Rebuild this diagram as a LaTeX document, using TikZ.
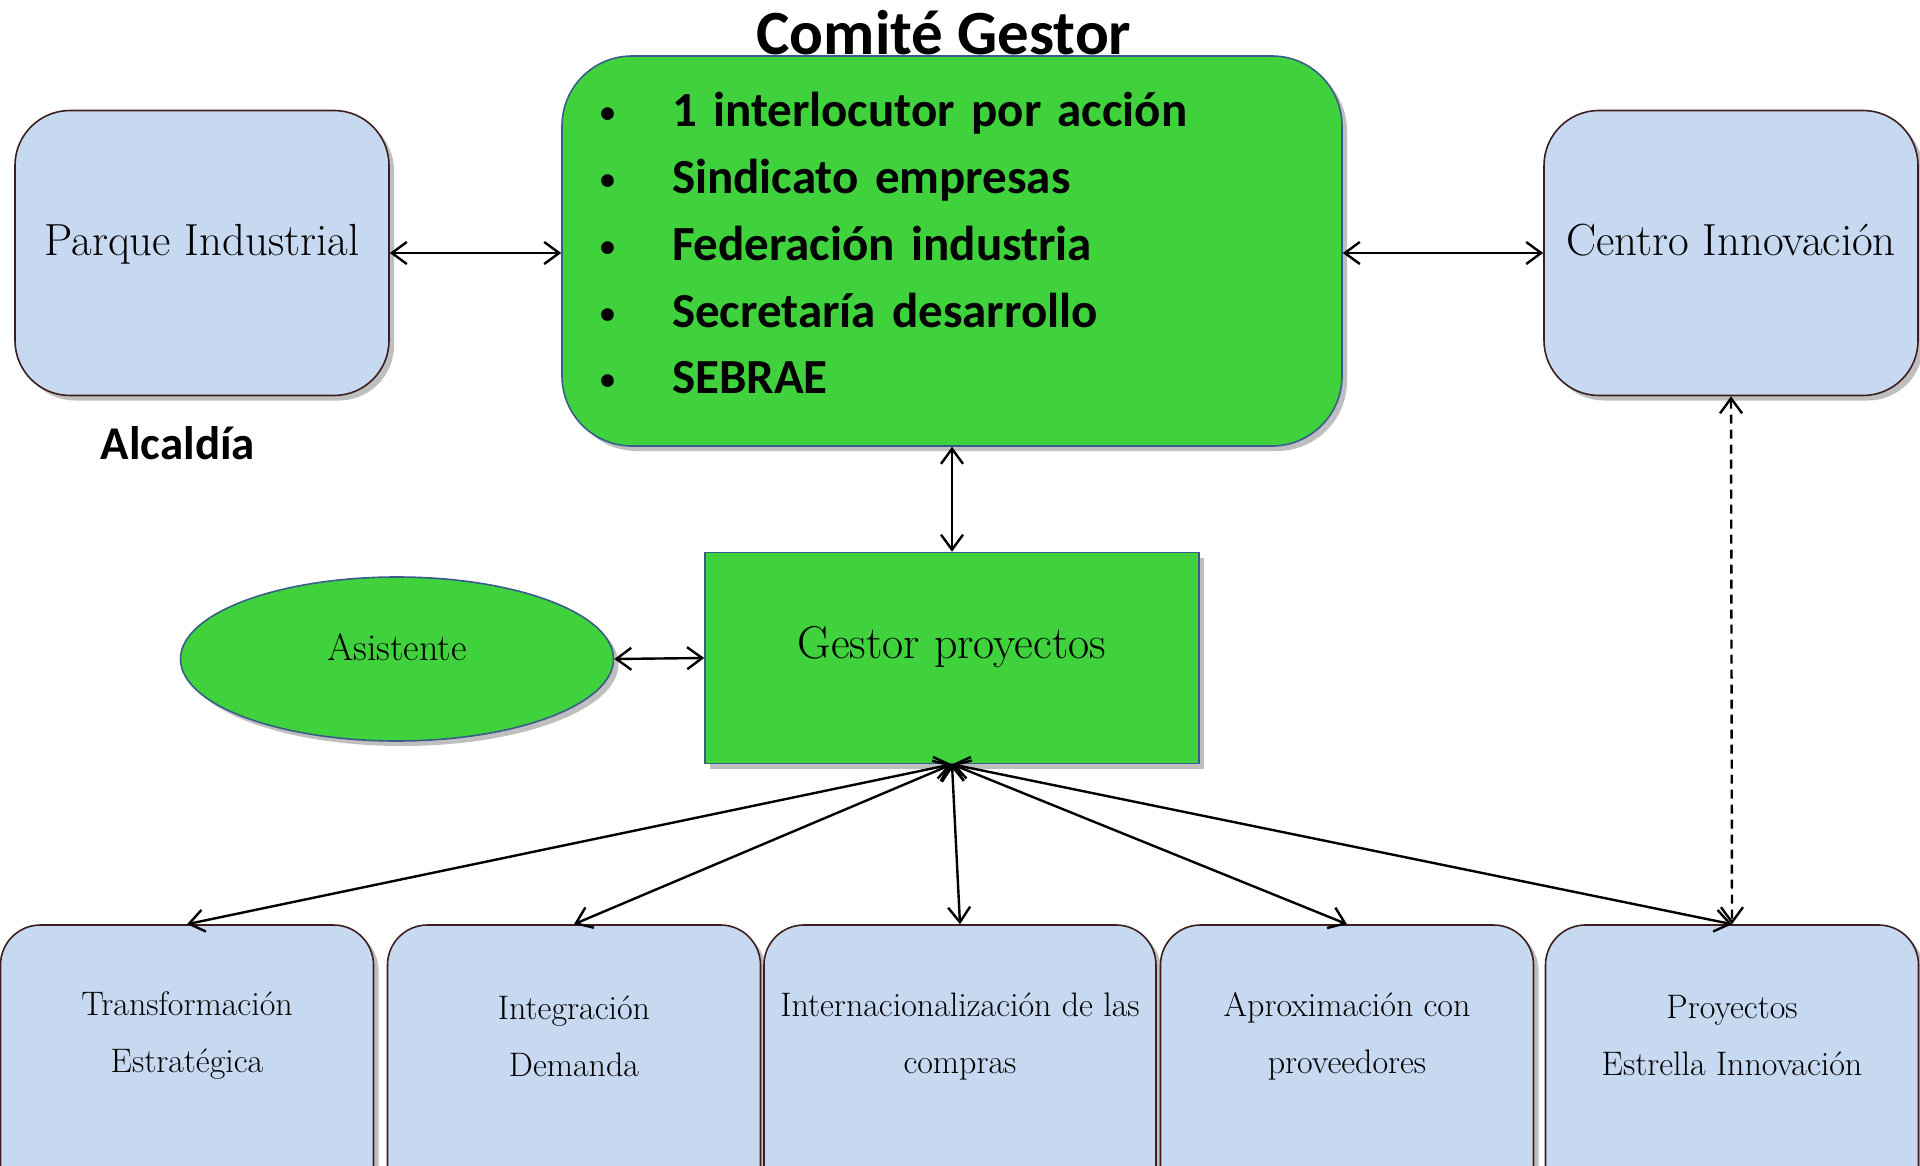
\documentclass[tikz,border=0pt]{standalone}
\usepackage{fontspec}
\newfontfamily\calibri{Carlito}
\usepackage{tikz}
\usetikzlibrary{shapes.geometric, shadows}
\usetikzlibrary{arrows.meta}
\definecolor{azulcaja}{RGB}{198,217,240}
\definecolor{bordecaja}{RGB}{60,30,30}
\definecolor{verdecaja}{RGB}{64,210,60}
\definecolor{bordeverde}{RGB}{56,93,138}
\newcommand{\punto}{\makebox[72pt][l]{\fontsize{30}{30}\selectfont\raisebox{4pt}{\textbullet}}}
\tikzstyle{sombra} = [drop shadow={shadow xshift=5pt, shadow yshift=-5pt, opacity=0.25, fill=black}]
\tikzstyle{caja} = [draw=bordecaja, line width=1.6pt, fill=azulcaja, sombra, rounded corners=55pt, minimum width=374pt, minimum height=285pt, text depth=27pt, font=\fontsize{45}{54}\selectfont]
\tikzstyle{cajabajo} = [draw=bordecaja, line width=1.6pt, fill=azulcaja, sombra, rounded corners=40pt, minimum width=373pt, minimum height=400pt]
\tikzstyle{txtbajo} = [align=center, font=\fontsize{34}{57}\selectfont]
\tikzstyle{verde} = [draw=bordeverde, line width=1.6pt, fill=verdecaja, sombra]
\tikzstyle{negrita} = [font=\calibri\bfseries\fontsize{47}{56}\selectfont]
\tikzstyle{flecha} = [line width=2.4pt, {Straight Barb[length=15pt,width=22pt]}-{Straight Barb[length=15pt,width=22pt]}]

\begin{document}
\begin{tikzpicture}[x=1pt, y=-1pt]
	\useasboundingbox (0,0) rectangle (1920,1166);
	\node[caja] (parque) at (202,253) {Parque Industrial};
	\node[caja] (centro) at (1731,253) {Centro Innovación};
	\node[negrita] (alcaldia) at (178,443) {Alcaldía};
	\node[font=\calibri\bfseries\fontsize{63}{70}\selectfont] (titulo) at (944,33) {Comité Gestor};
	\node[verde, rounded corners=70pt, minimum width=780pt, minimum height=390pt, text width=704pt, inner xsep=38pt, text depth=283pt, align=left, font=\calibri\bfseries\fontsize{49}{66.8}\selectfont] (comite) at (952,251) {%
		\punto 1 interlocutor por acción\\
		\punto Sindicato empresas\\
		\punto Federación industria\\
		\punto Secretaría desarrollo\\
		\punto SEBRAE};
	\node[verde, minimum width=494pt, minimum height=211pt, text depth=31pt, font=\fontsize{46}{54}\selectfont] (gestor) at (952,658) {Gestor proyectos};
	\node[verde, ellipse, minimum width=433pt, minimum height=164pt, text depth=24pt, font=\fontsize{38}{44}\selectfont] (asistente) at (397,659) {Asistente};
	\node[cajabajo] (t1) at (187,1125) {};
	\node[cajabajo] (t2) at (574,1125) {};
	\node[cajabajo, minimum width=392pt] (t3) at (960,1125) {};
	\node[cajabajo] (t4) at (1347,1125) {};
	\node[cajabajo] (t5) at (1732,1125) {};
	\node[txtbajo] (t1txt) at (187,1036) {Transformación\\Estratégica};
	\node[txtbajo] (t2txt) at (574,1036) {Integración\\Demanda};
	\node[txtbajo] (t3txt) at (960,1036) {Internacionalización de las\\compras};
	\node[txtbajo] (t4txt) at (1347,1036) {Aproximación con\\proveedores};
	\node[txtbajo] (t5txt) at (1732,1036) {Proyectos\\Estrella Innovación};
	\draw[flecha] (parque.east) -- (parque.east -| comite.west);
	\draw[flecha] (comite.east |- centro.west) -- (centro.west);
	\draw[flecha] (comite.south) -- (gestor.north);
	\draw[flecha] (asistente.east) -- (gestor.west);
	\foreach \c in {t1,t2,t3,t4,t5}
		\draw[flecha] (gestor.south) -- (\c.north);
	\draw[flecha, dash pattern=on 9pt off 6pt] (centro.south) -- (t5.north);
\end{tikzpicture}
\end{document}
